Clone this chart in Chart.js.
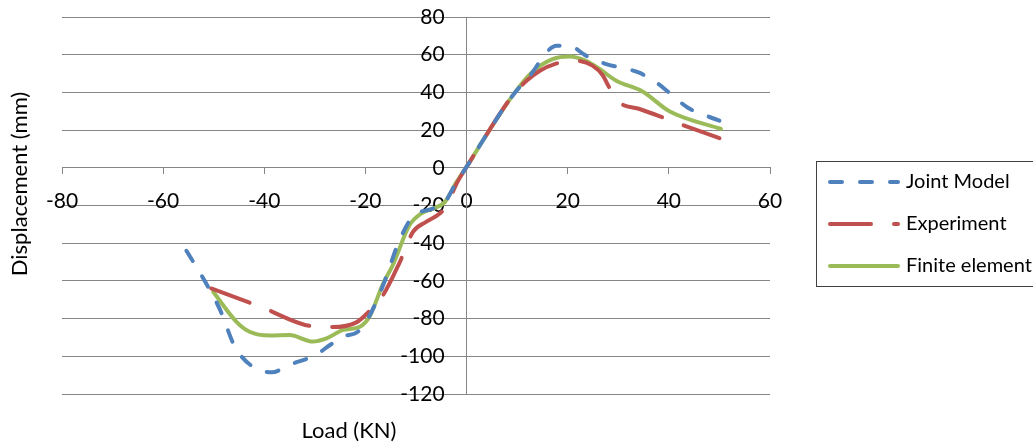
<!DOCTYPE html>
<html>
<head>
<meta charset="utf-8">
<script src="https://cdn.jsdelivr.net/npm/chart.js@4"></script>
<style>
  body { margin: 0; background: #fff; }
  #wrap { width: 1033px; height: 442px; position: relative; }
</style>
</head>
<body>
<div id="wrap"><canvas id="chart"></canvas></div>
<script>
const xTicks = [-80, -60, -40, -20, 0, 20, 40, 60]
const yTicks = [-120, -100, -80, -60, -40, -20, 0, 20, 40, 60, 80]

const jointX = [-55.4, -52, -48.8, -45.8, -42, -38.5, -35, -30, -27, -24.5, -21.5, -19.5, -16.6, -13.5, -11, -9.2, -6.7, -4.3, -2, 0.6, 2.6, 9.1, 13, 15.7, 17.8, 20.5, 23.6, 27.6, 30.2, 34, 37.5, 40, 43.7, 50]
const jointY = [-44, -59, -75, -95, -106, -108.5, -104.5, -99.5, -94, -89.5, -87, -80, -63, -40, -27, -23.5, -21.7, -18.2, -7.6, 3, 11.8, 38.3, 50.5, 61, 64.7, 64.5, 59.5, 55, 53.3, 50.6, 45.3, 40, 32, 25]

const expX = [-50.5, -40.5, -30.7, -26.5, -21.8, -19.2, -16.5, -13.2, -10.6, -8, -5.3, -3.8, -2, 0.6, 2.6, 9.1, 11.8, 14.5, 17.4, 21.7, 24.9, 27, 28, 30.2, 34.2, 38.1, 42.1, 50]
const expY = [-64, -74, -84, -84.5, -82, -76, -67.5, -50, -34, -28.7, -24.3, -19.5, -8.5, 3, 11.8, 38.3, 46, 51.5, 55, 56.8, 54.2, 48.8, 43.6, 34.8, 31.2, 27.4, 23.3, 15.7]

const feX = [-50.1, -45.5, -42.9, -38.9, -35, -30.4, -27.7, -24.4, -21.1, -19.2, -16.5, -14.6, -11.3, -9, -6.7, -4.3, -2, 0.6, 2.6, 9.1, 13, 17, 20.4, 23.6, 26.3, 29.6, 34.8, 40.1, 50.3]
const feY = [-65.8, -81.7, -87, -89, -88.7, -92.2, -90.5, -86, -84.3, -79, -61.4, -51.7, -30.5, -24.3, -21.7, -18.2, -7.6, 3, 11.8, 38.3, 50.8, 57.7, 59.1, 56.8, 52.4, 46.2, 40.5, 30, 20.6]

const seriesNames = ['Joint Model', 'Experiment', 'Finite element']
const seriesColors = ['#4F81BD', '#C0504D', '#9BBB59']
const seriesDash = [[12, 18], [41, 23], []]

const FONT = 'Lato, "Open Sans", sans-serif'
const GRID = '#868686'

function pts(xs, ys) {
  return xs.map((x, i) => ({ x: x, y: ys[i] }))
}

const datasets = [pts(jointX, jointY), pts(expX, expY), pts(feX, feY)].map((d, i) => ({
  label: seriesNames[i],
  data: d,
  showLine: true,
  borderColor: seriesColors[i],
  borderWidth: 4,
  borderDash: seriesDash[i],
  borderCapStyle: 'round',
  borderJoinStyle: 'round',
  cubicInterpolationMode: 'monotone',
  pointRadius: 0,
  fill: false
}))

// no extra padding from the crossing axes
function noPad(s) {
  s.paddingTop = 0
  s.paddingBottom = 0
  s.paddingLeft = 0
  s.paddingRight = 0
}

// axis titles and legend drawn like the Excel original
const extras = {
  id: 'extras',
  beforeDraw(chart) {
    // y labels sit left of the zero line with a gap
    const items = chart.scales.y.getLabelItems(chart.chartArea)
    if (!items._shifted) {
      items.forEach(it => { it.options.translation[0] -= 22 })
      items._shifted = true
    }
  },
  afterDraw(chart) {
    const ctx = chart.ctx
    ctx.save()
    ctx.fillStyle = '#000'
    ctx.font = '22px ' + FONT
    ctx.textAlign = 'center'
    ctx.textBaseline = 'middle'
    ctx.fillText('Load (KN)', 349, 431)
    ctx.translate(20, 184)
    ctx.rotate(-Math.PI / 2)
    ctx.fillText('Displacement (mm)', 0, 0)
    ctx.restore()

    ctx.save()
    ctx.strokeStyle = '#404040'
    ctx.lineWidth = 1
    ctx.strokeRect(816.5, 161.5, 240, 125)
    ctx.font = '20px ' + FONT
    ctx.textBaseline = 'middle'
    ctx.textAlign = 'left'
    const rows = [182, 224, 266]
    rows.forEach((y, i) => {
      ctx.beginPath()
      ctx.strokeStyle = seriesColors[i]
      ctx.lineWidth = 4
      ctx.lineCap = 'round'
      ctx.setLineDash(seriesDash[i])
      ctx.moveTo(830, y)
      ctx.lineTo(898, y)
      ctx.stroke()
      ctx.setLineDash([])
      ctx.fillStyle = '#000'
      ctx.fillText(seriesNames[i], 906, y)
    })
    ctx.restore()
  }
}

new Chart(document.getElementById('chart'), {
  type: 'scatter',
  data: { datasets: datasets },
  options: {
    responsive: true,
    maintainAspectRatio: false,
    animation: false,
    layout: { padding: { left: 62, right: 263, top: 17, bottom: 48 } },
    plugins: {
      legend: { display: false },
      tooltip: { enabled: false }
    },
    scales: {
      x: {
        type: 'linear',
        position: { y: 0 },
        min: xTicks[0],
        max: xTicks[xTicks.length - 1],
        afterBuildTicks: (s) => { s.ticks = xTicks.map(v => ({ value: v })) },
        afterFit: noPad,
        ticks: { color: '#000', font: { family: FONT, size: 21 }, padding: 15, maxRotation: 0, autoSkip: false },
        grid: { drawOnChartArea: false, color: GRID, tickColor: GRID, tickLength: 6 },
        border: { color: GRID, width: 1 }
      },
      y: {
        type: 'linear',
        position: { x: 0 },
        min: yTicks[0],
        max: yTicks[yTicks.length - 1],
        afterBuildTicks: (s) => { s.ticks = yTicks.map(v => ({ value: v })) },
        afterFit: noPad,
        ticks: { color: '#000', font: { family: FONT, size: 21 }, autoSkip: false },
        grid: { color: GRID, tickColor: GRID, tickLength: 7 },
        border: { color: GRID, width: 1 }
      }
    }
  },
  plugins: [extras]
})
</script>
</body>
</html>
